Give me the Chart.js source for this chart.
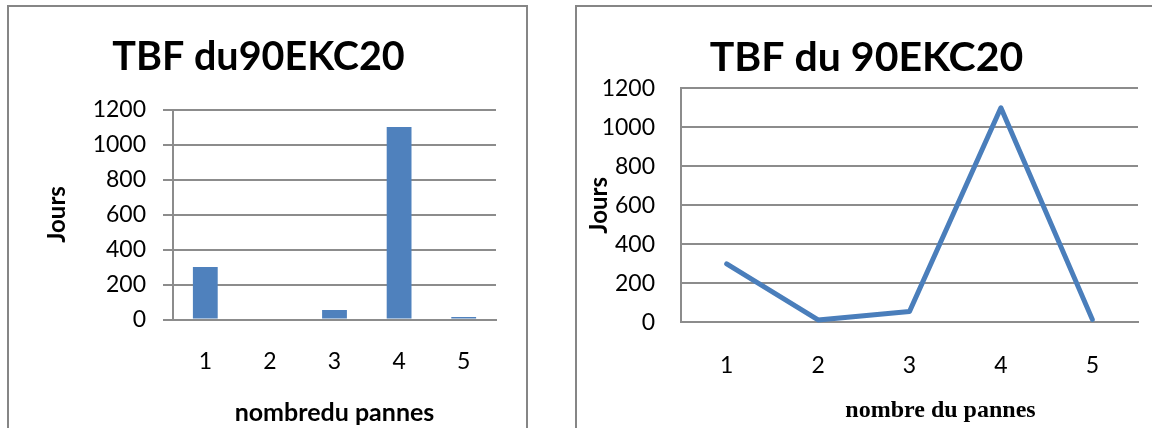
<!DOCTYPE html>
<html>
<head>
<meta charset="utf-8">
<script src="https://cdn.jsdelivr.net/npm/chart.js@4.4.1/dist/chart.umd.min.js"></script>
<style>
  html, body { margin: 0; padding: 0; background: #fff; width: 1152px; height: 428px; overflow: hidden; }
  .panel { position: absolute; box-sizing: border-box; border: 2px solid #868686; }
  #panelBar  { left: 7px;   top: 5px; width: 521px; height: 460px; }
  #panelLine { left: 575px; top: 5px; width: 620px; height: 460px; }
  canvas { position: absolute; top: 0; }
  #barChart  { left: 7px; }
  #lineChart { left: 576px; }
</style>
</head>
<body>
<div class="panel" id="panelBar"></div>
<div class="panel" id="panelLine"></div>
<canvas id="barChart" width="520" height="428"></canvas>
<canvas id="lineChart" width="580" height="428"></canvas>
<script>
// Number of failures (x) and days between failures (y)
const categories = ['1', '2', '3', '4', '5'];
const barJours = [300, 0, 55, 1100, 14];
const lineJours = [300, 12, 55, 1100, 15];
const yMin = 0;
const yMax = 1200;
const yStep = 200;

const barTitle = 'TBF du90EKC20';
const lineTitle = 'TBF du 90EKC20';
const yTitle = 'Jours';
const barXTitle = 'nombredu pannes';
const lineXTitle = 'nombre du pannes';

const SANS = 'Lato, "Open Sans", sans-serif';
const SERIF = '"Liberation Serif", "DejaVu Serif", serif';
const GRID = '#8c8c8c';
const BLUE_BAR = '#4f81bd';
const BLUE_LINE = '#4a7ebb';

// Plain integer tick labels, no digit grouping
const plainNumber = v => String(v);

// Draws a bottom-axis caption shifted horizontally from the plot centre
const shiftedCaption = {
  id: 'shiftedCaption',
  afterDraw(chart, args, opts) {
    if (!opts || !opts.text) return;
    const { ctx, chartArea, scales } = chart;
    const x = (chartArea.left + chartArea.right) / 2 + (opts.dx || 0);
    const y = scales.x.bottom - (opts.fromBottom || 0);
    ctx.save();
    ctx.font = opts.font;
    ctx.fillStyle = '#000';
    ctx.textAlign = 'center';
    ctx.textBaseline = 'middle';
    ctx.fillText(opts.text, x, y);
    ctx.restore();
  }
};

Chart.register(shiftedCaption);

// Bar chart
new Chart(document.getElementById('barChart'), {
  type: 'bar',
  data: {
    labels: categories,
    datasets: [{
      data: barJours,
      backgroundColor: BLUE_BAR,
      borderWidth: 0,
      barPercentage: 0.48,
      categoryPercentage: 0.8
    }]
  },
  options: {
    responsive: false,
    animation: false,
    events: [],
    layout: { padding: { left: 14, right: 31, top: 0, bottom: 0 } },
    plugins: {
      legend: { display: false },
      tooltip: { enabled: false },
      title: {
        display: true,
        text: barTitle,
        color: '#000',
        font: { family: SANS, size: 39.5, weight: 'bold', lineHeight: 1.2 },
        padding: { top: 34, bottom: 28.1 }
      }
    },
    scales: {
      x: {
        grid: { display: false, drawTicks: false },
        border: { display: true, color: GRID, width: 2 },
        ticks: { color: '#000', font: { family: SANS, size: 23 }, padding: 28.7 },
        title: {
          display: true,
          text: barXTitle,
          color: '#000',
          font: { family: SANS, size: 25, weight: 'bold', lineHeight: 1.2 },
          padding: { top: 0, bottom: 0 }
        },
        afterFit(scale) { scale.height = 108.5; }
      },
      y: {
        min: yMin,
        max: yMax,
        grid: { color: GRID, lineWidth: 2, drawTicks: true, tickLength: 10, tickColor: GRID },
        border: { display: true, color: GRID, width: 2 },
        ticks: { stepSize: yStep, callback: plainNumber, color: '#000', font: { family: SANS, size: 23 }, padding: 17 },
        title: {
          display: true,
          text: yTitle,
          color: '#000',
          font: { family: SANS, size: 24, weight: 'bold', lineHeight: 1.2 },
          padding: { top: 22, bottom: 0 }
        },
        afterFit(scale) { scale.width = 152; }
      }
    }
  }
});

// Line chart
new Chart(document.getElementById('lineChart'), {
  type: 'line',
  data: {
    labels: categories,
    datasets: [{
      data: lineJours,
      borderColor: BLUE_LINE,
      borderWidth: 5,
      borderCapStyle: 'round',
      borderJoinStyle: 'round',
      pointRadius: 0,
      tension: 0,
      fill: false,
      clip: false
    }]
  },
  options: {
    responsive: false,
    animation: false,
    events: [],
    layout: { padding: { left: 19, right: 18, top: 0, bottom: 0 } },
    plugins: {
      legend: { display: false },
      tooltip: { enabled: false },
      title: {
        display: true,
        text: lineTitle,
        color: '#000',
        font: { family: SANS, size: 41, weight: 'bold', lineHeight: 1.2 },
        padding: { top: 33, bottom: 6.1 }
      },
      shiftedCaption: {
        text: lineXTitle,
        font: 'bold 24px ' + SERIF,
        dx: 31,
        fromBottom: 17
      }
    },
    scales: {
      x: {
        offset: true,
        grid: { display: false, drawTicks: false },
        border: { display: true, color: GRID, width: 2 },
        ticks: { color: '#000', font: { family: SANS, size: 23 }, padding: 29 },
        afterFit(scale) { scale.height = 105.7; }
      },
      y: {
        min: yMin,
        max: yMax,
        grid: { color: GRID, lineWidth: 2, drawTicks: false },
        border: { display: true, color: GRID, width: 2 },
        ticks: { stepSize: yStep, callback: plainNumber, color: '#000', font: { family: SANS, size: 23 }, padding: 26 },
        title: {
          display: true,
          text: yTitle,
          color: '#000',
          font: { family: SANS, size: 24, weight: 'bold', lineHeight: 1.2 },
          padding: { top: -10.4, bottom: 0 }
        },
        afterFit(scale) { scale.width = 86; }
      }
    }
  }
});
</script>
</body>
</html>
